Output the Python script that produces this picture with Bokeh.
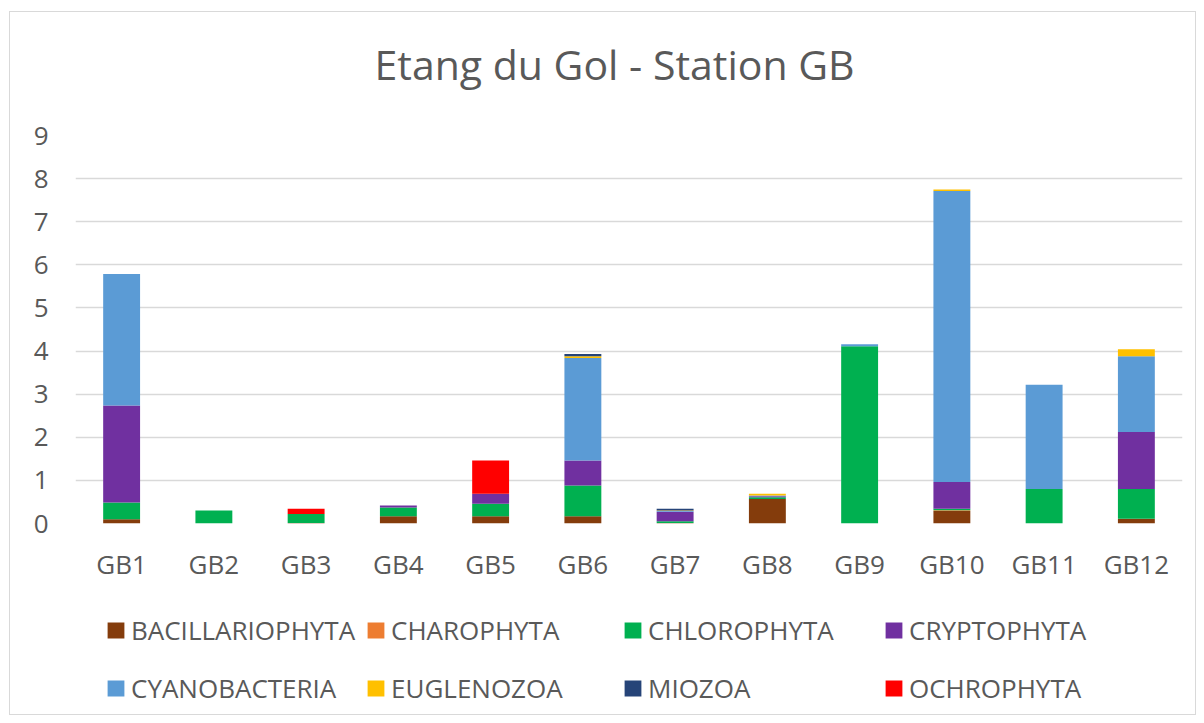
from bokeh.plotting import figure
from bokeh.models import (ColumnDataSource, FactorRange, Range1d, FixedTicker,
                          Legend, LegendItem, Label)
from bokeh.layouts import column
from bokeh.embed import file_html
from bokeh.resources import INLINE

# ---- data ----
categories = ["GB1", "GB2", "GB3", "GB4", "GB5", "GB6", "GB7", "GB8", "GB9", "GB10", "GB11", "GB12"]
BACILLARIOPHYTA = [0.10, 0.00, 0.01, 0.17, 0.17, 0.17, 0.01, 0.57, 0.00, 0.29, 0.00, 0.11]
CHAROPHYTA      = [0.00, 0.00, 0.00, 0.00, 0.00, 0.00, 0.00, 0.00, 0.00, 0.02, 0.00, 0.00]
CHLOROPHYTA     = [0.39, 0.30, 0.21, 0.20, 0.29, 0.71, 0.04, 0.04, 4.11, 0.03, 0.80, 0.69]
CRYPTOPHYTA     = [2.25, 0.00, 0.00, 0.05, 0.23, 0.58, 0.22, 0.02, 0.00, 0.62, 0.00, 1.32]
CYANOBACTERIA   = [3.05, 0.00, 0.00, 0.00, 0.00, 2.38, 0.02, 0.02, 0.05, 6.75, 2.42, 1.76]
EUGLENOZOA      = [0.00, 0.00, 0.00, 0.00, 0.00, 0.04, 0.01, 0.04, 0.00, 0.04, 0.00, 0.16]
MIOZOA          = [0.00, 0.00, 0.00, 0.00, 0.00, 0.05, 0.04, 0.00, 0.00, 0.00, 0.00, 0.00]
OCHROPHYTA      = [0.00, 0.00, 0.12, 0.00, 0.77, 0.00, 0.00, 0.00, 0.00, 0.00, 0.00, 0.00]

series_names = ["BACILLARIOPHYTA", "CHAROPHYTA", "CHLOROPHYTA", "CRYPTOPHYTA",
                "CYANOBACTERIA", "EUGLENOZOA", "MIOZOA", "OCHROPHYTA"]
series_values = [BACILLARIOPHYTA, CHAROPHYTA, CHLOROPHYTA, CRYPTOPHYTA,
                 CYANOBACTERIA, EUGLENOZOA, MIOZOA, OCHROPHYTA]
colors = ["#843C0C", "#ED7D31", "#00B050", "#7030A0",
          "#5B9BD5", "#FFC000", "#264478", "#FF0000"]
y_ticks = [0, 1, 2, 3, 4, 5, 6, 7, 8, 9]
title_text = "Etang du Gol - Station GB"

TXT = "#595959"
FONT = "Open Sans"

data = {"cat": categories}
for n, v in zip(series_names, series_values):
    data[n] = v
source = ColumnDataSource(data)

W = 1185
H_TITLE = 100
H_MAIN = 488
H_LEG = 114


def blank_figure(h):
    f = figure(width=W, height=h, output_backend="svg", toolbar_location=None,
               x_range=Range1d(0, 1), y_range=Range1d(0, 1),
               x_axis_type=None, y_axis_type=None,
               min_border=0, min_border_left=0, min_border_right=0,
               min_border_top=0, min_border_bottom=0)
    f.outline_line_color = None
    f.xgrid.grid_line_color = None
    f.ygrid.grid_line_color = None
    return f


# ---- title panel ----
tf = blank_figure(H_TITLE)
tf.add_layout(Label(x=299, y=49, x_units="screen", y_units="screen",
                    text=title_text, text_font=FONT, text_font_size="41px",
                    text_color=TXT, text_align="left",
                    text_baseline="alphabetic"))

# ---- main chart ----
p = figure(x_range=FactorRange(*categories), y_range=Range1d(0, 9),
           width=W, height=H_MAIN, output_backend="svg", toolbar_location=None,
           min_border_left=65, min_border_right=13, min_border_top=23,
           min_border_bottom=77)
p.outline_line_color = None

renderers = p.vbar_stack(series_names, x="cat", width=0.4, source=source,
                         color=colors, line_color=None)

p.yaxis.ticker = FixedTicker(ticks=y_ticks)
p.yaxis.axis_line_color = None
p.yaxis.major_tick_line_color = None
p.yaxis.minor_tick_line_color = None
p.yaxis.major_label_standoff = 21
p.yaxis.major_label_text_font = FONT
p.yaxis.major_label_text_font_size = "26px"
p.yaxis.major_label_text_color = TXT

p.xaxis.axis_line_color = None
p.xaxis.major_tick_line_color = None
p.xaxis.major_label_standoff = 16
p.xaxis.major_label_text_font = FONT
p.xaxis.major_label_text_font_size = "26px"
p.xaxis.major_label_text_color = TXT

p.xgrid.grid_line_color = None
p.ygrid.grid_line_color = "#d9d9d9"
p.ygrid.grid_line_width = 1.5

# ---- legend panel ----
lf = blank_figure(H_LEG)
# legend proxies lying outside the visible range
leg_r = [lf.vbar(x=[-5], top=[0], width=0.1, fill_color=c, line_color=None)
         for c in colors]

col_x = [30, 290, 547, 808]
for c in range(4):
    items = [LegendItem(label=series_names[c], renderers=[leg_r[c]]),
             LegendItem(label=series_names[c + 4], renderers=[leg_r[c + 4]])]
    lg = Legend(items=items, location=(col_x[c], 8), orientation="vertical",
                padding=0, spacing=22, glyph_width=21, glyph_height=20,
                label_standoff=5, label_text_font=FONT, label_text_font_size="26px",
                label_text_color=TXT, border_line_color=None,
                background_fill_alpha=0, margin=0)
    lf.add_layout(lg, "center")

layout = column(tf, p, lf, spacing=0)
layout.styles = {"border": "1px solid #d9d9d9", "margin": "11px 0 0 9px"}

open("out.html", "w").write(file_html(layout, INLINE))
